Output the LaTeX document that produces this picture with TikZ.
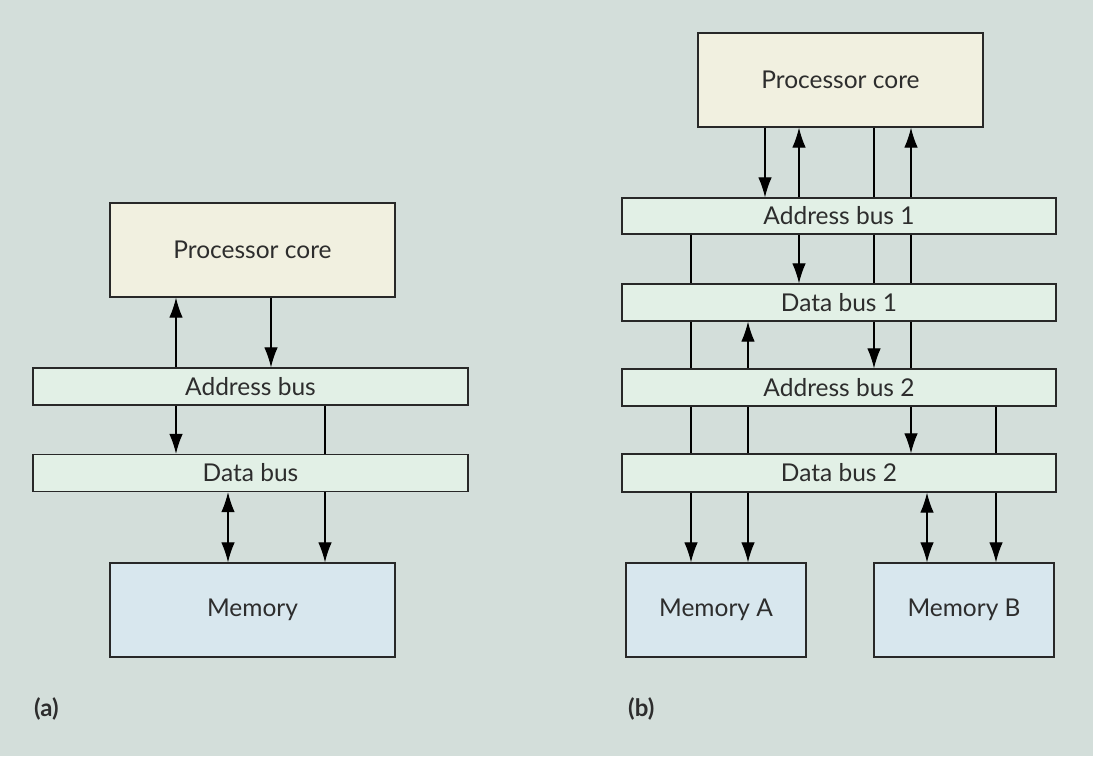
\documentclass[tikz,border=0pt]{standalone}
\usepackage{fontspec}
\setmainfont{Lato}
\usetikzlibrary{arrows.meta}
\definecolor{bgc}{RGB}{211,222,218}
\definecolor{procc}{RGB}{241,240,224}
\definecolor{busc}{RGB}{226,240,230}
\definecolor{memc}{RGB}{216,231,238}
\definecolor{edgec}{RGB}{40,40,40}
\definecolor{txtc}{RGB}{45,45,45}
\tikzset{
  boxbase/.style={draw=edgec, line width=1.3pt, inner sep=0pt, text=txtc, font=\fontsize{24.5}{28}\selectfont},
  procbox/.style={boxbase, fill=procc, minimum width=285pt, minimum height=94pt},
  busbox/.style={boxbase, fill=busc, minimum width=435pt, minimum height=37pt},
  membox/.style={boxbase, fill=memc, minimum height=94pt},
  wire/.style={draw=black, line width=1.2pt},
  tip/.tip={Latex[length=20pt,width=13.5pt]},
  down/.style={wire, -tip},
  up/.style={wire, tip-},
  both/.style={wire, tip-tip},
  sublabel/.style={font=\bfseries\fontsize{24}{28}\selectfont, text=txtc, anchor=west, inner sep=0pt}
}
\newcommand{\vlink}[4]{\draw[#4] (#2.south -| #1,0) -- (#3.north -| #1,0);}
\begin{document}
\begin{tikzpicture}[x=1pt,y=-1pt]
\fill[bgc] (0,0) rectangle (1093,756);
\useasboundingbox (0,0) rectangle (1093,756);
% (a)
\node[procbox] (pcL) at (252.5,250) {Processor core};
\node[busbox] (abL) at (250.5,386.5) {Address bus};
\node[busbox] (dbL) at (250.5,473) {Data bus};
\node[membox, minimum width=285pt] (memL) at (252.5,610) {Memory};
\draw[up] (pcL.south -| 176,0) -- (abL.north -| 176,0);
\vlink{271}{pcL}{abL}{down}
\vlink{176}{abL}{dbL}{down}
\vlink{325}{abL}{dbL}{wire}
\vlink{228}{dbL}{memL}{both}
\vlink{325}{dbL}{memL}{down}
\node[sublabel] (la) at (34,709) {(a)};
% (b)
\node[procbox] (pcR) at (840.5,80) {Processor core};
\node[busbox, minimum width=434pt, minimum height=36pt] (ab1) at (839,216) {Address bus 1};
\node[busbox, minimum width=434pt] (db1) at (839,302.5) {Data bus 1};
\node[busbox, minimum width=434pt] (ab2) at (839,387.5) {Address bus 2};
\node[busbox, minimum width=434pt, minimum height=38pt] (db2) at (839,473) {Data bus 2};
\node[membox, minimum width=180pt] (memA) at (716,610) {Memory A};
\node[membox, minimum width=180pt] (memB) at (964,610) {Memory B};
% proc -> AB1
\vlink{765}{pcR}{ab1}{down}
\draw[up] (pcR.south -| 799,0) -- (ab1.north -| 799,0);
\vlink{874}{pcR}{ab1}{wire}
\draw[up] (pcR.south -| 911,0) -- (ab1.north -| 911,0);
% AB1 -> DB1
\vlink{691}{ab1}{db1}{wire}
\vlink{799}{ab1}{db1}{down}
\vlink{874}{ab1}{db1}{wire}
\vlink{911}{ab1}{db1}{wire}
% DB1 -> AB2
\vlink{691}{db1}{ab2}{wire}
\draw[up] (db1.south -| 748,0) -- (ab2.north -| 748,0);
\vlink{874}{db1}{ab2}{down}
\vlink{911}{db1}{ab2}{wire}
% AB2 -> DB2
\vlink{691}{ab2}{db2}{wire}
\vlink{748}{ab2}{db2}{wire}
\vlink{911}{ab2}{db2}{down}
\vlink{996}{ab2}{db2}{wire}
% DB2 -> memories
\vlink{691}{db2}{memA}{down}
\vlink{748}{db2}{memA}{down}
\vlink{927}{db2}{memB}{both}
\vlink{996}{db2}{memB}{down}
\node[sublabel] (lb) at (628,709) {(b)};
\end{tikzpicture}
\end{document}
